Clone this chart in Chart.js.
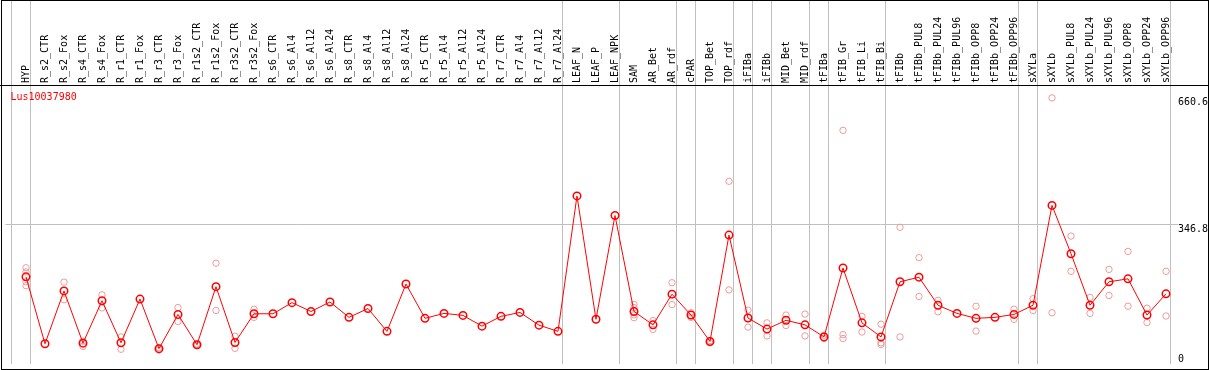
<!DOCTYPE html>
<html>
<head>
<meta charset="utf-8">
<script src="https://cdn.jsdelivr.net/npm/chart.js@4.4.1/dist/chart.umd.min.js"></script>
<style>
html,body{margin:0;padding:0;background:#fff;overflow:hidden;}
#wrap{position:relative;width:1209px;height:370px;}
#c{position:absolute;left:0;top:0;width:1209px;height:370px;}
#frame{position:absolute;left:1px;top:0;width:1208px;height:370px;border:1px solid #000;box-sizing:border-box;pointer-events:none;}
</style>
</head>
<body>
<div id="wrap"><canvas id="c" width="1209" height="370"></canvas><div id="frame"></div></div>
<script>
const geneName = 'Lus10037980';

const categories = [
  'HYP','R_s2_CTR','R_s2_Fox','R_s4_CTR','R_s4_Fox','R_r1_CTR','R_r1_Fox','R_r3_CTR','R_r3_Fox',
  'R_r1s2_CTR','R_r1s2_Fox','R_r3s2_CTR','R_r3s2_Fox','R_s6_CTR','R_s6_Al4','R_s6_Al12','R_s6_Al24',
  'R_s8_CTR','R_s8_Al4','R_s8_Al12','R_s8_Al24','R_r5_CTR','R_r5_Al4','R_r5_Al12','R_r5_Al24',
  'R_r7_CTR','R_r7_Al4','R_r7_Al12','R_r7_Al24','LEAF_N','LEAF_P','LEAF_NPK','SAM','AR_Bet','AR_rdf',
  'cPAR','TOP_Bet','TOP_rdf','iFIBa','iFIBb','MID_Bet','MID_rdf','tFIBa','tFIB_Gr','tFIB_Li','tFIB_Bi',
  'tFIBb','tFIBb_PUL8','tFIBb_PUL24','tFIBb_PUL96','tFIBb_OPP8','tFIBb_OPP24','tFIBb_OPP96',
  'sXYLa','sXYLb','sXYLb_PUL8','sXYLb_PUL24','sXYLb_PUL96','sXYLb_OPP8','sXYLb_OPP24','sXYLb_OPP96'
];

const means = [
  216.3, 50.2, 181.4, 51.8, 157.1, 52.7, 161.2, 38.1, 123.1,
  47.8, 192.0, 53.5, 124.7, 124.7, 152.3, 130.4, 153.9,
  115.8, 137.7, 81.0, 198.5, 113.4, 125.6, 120.7, 94.0,
  118.3, 128.0, 96.4, 81.0, 417.2, 111.0, 368.6, 130.4, 97.2, 173.3,
  121.5, 55.9, 320.0, 114.2, 86.7, 108.5, 97.2, 67.2, 238.2, 102.1, 67.2,
  204.1, 215.5, 145.8, 125.6, 113.4, 115.8, 123.1,
  145.8, 393.7, 273.8, 145.8, 204.1, 211.4, 121.5, 174.2
];

const replicates = [
  [238.9, 228.4, 204.1, 194.4], [], [203.3, 159.6], [56.7, 43.7], [171.7, 139.3], [67.2, 36.5], [], [40.5, 34.8], [140.1, 105.3],
  [49.4, 46.2], [250.3, 132.8], [68.9, 38.9], [136.1, 115.8], [], [], [], [],
  [], [], [], [], [], [], [], [],
  [], [], [], [], [], [], [], [148.0, 140.0, 122.0, 115.0], [107.7, 85.9], [201.7, 147.4],
  [127.2, 115.8], [58.3, 52.7], [453.6, 183.9], [133.7, 91.5], [102.1, 69.7], [121.5, 95.6], [123.9, 69.7], [71.3, 63.2], [580.0, 72.9, 63.2], [118.3, 79.4], [98.8, 52.7, 48.6],
  [339.4, 67.2], [264.1, 167.7], [158.0, 129.6], [], [143.4, 81.8], [], [136.1, 111.0],
  [162.0, 132.8], [660.6, 127.2], [317.5, 230.1], [165.3, 125.6], [234.9, 170.1], [279.5, 143.4], [138.5, 102.9], [230.1, 119.1]
];

// indices of the last category of each group (separator drawn just after it)
const groupEnds = [-1, 0, 28, 31, 34, 35, 37, 38, 39, 41, 42, 45, 52, 53, 60];

const yTickValues = [0, 346.8, 660.6];

const SEP_OFFSET = 0.237;
const FONT = {family: "'DejaVu Sans Mono', monospace", size: 10};
const GRID = '#c0c0c0';
const NONE = 'rgba(0,0,0,0)';

const yLabelBaseline = {
  id: 'yLabelBaseline',
  beforeDraw(chart) {
    const items = chart.scales.y.getLabelItems();
    items.forEach(it => {
      it.options.textBaseline = (it.label === String(yTickValues[0])) ? 'bottom' : 'top';
    });
  }
};

new Chart(document.getElementById('c'), {
  type: 'line',
  data: {
    datasets: [
      {
        label: geneName,
        data: means.map((v, i) => ({x: i, y: v})),
        borderColor: '#ff0000',
        borderWidth: 1,
        pointRadius: 3.75,
        pointBorderWidth: 1.5,
        pointBorderColor: '#ff0000',
        pointBackgroundColor: NONE,
        tension: 0,
        fill: false
      },
      {
        type: 'scatter',
        label: 'replicates',
        data: replicates.flatMap((arr, i) => arr.map(v => ({x: i, y: v}))),
        pointRadius: 3.2,
        pointBorderWidth: 1,
        borderColor: '#ef9a9a',
        backgroundColor: NONE,
        showLine: false
      }
    ]
  },
  options: {
    responsive: false,
    animation: false,
    devicePixelRatio: 1,
    layout: {padding: 0},
    font: FONT,
    scales: {
      x: {
        type: 'linear',
        position: 'top',
        fullSize: true,
        min: -1.368,
        max: 62.263,
        afterBuildTicks: s => {
          const t = categories.map((_, i) => ({value: i}))
            .concat(groupEnds.map(g => ({value: g + SEP_OFFSET})));
          t.sort((a, b) => a.value - b.value);
          s.ticks = t;
        },
        afterFit: s => { s.height = 85; },
        ticks: {
          autoSkip: false,
          minRotation: 90,
          maxRotation: 90,
          padding: -83,
          labelOffset: 12,
          color: '#000',
          font: FONT,
          callback: v => Number.isInteger(v) ? categories[v] : ''
        },
        grid: {
          color: ctx => (ctx.tick && !Number.isInteger(ctx.tick.value)) ? GRID : NONE,
          lineWidth: 1,
          drawTicks: true,
          tickLength: 85
        },
        border: {display: true, color: '#000', width: 1}
      },
      y: {
        type: 'linear',
        position: 'right',
        min: 0,
        max: 692.6,
        afterBuildTicks: s => { s.ticks = yTickValues.map(v => ({value: v})); },
        afterFit: s => { s.width = 37; },
        ticks: {
          padding: 0,
          color: '#000',
          font: FONT,
          callback: v => String(v)
        },
        grid: {
          color: ctx => (ctx.tick && ctx.tick.value === yTickValues[1]) ? GRID : NONE,
          lineWidth: 1,
          drawTicks: true,
          tickLength: 6
        },
        border: {display: false}
      }
    },
    plugins: {
      legend: {
        display: true,
        position: 'chartArea',
        align: 'start',
        labels: {
          boxWidth: 0.001,
          boxHeight: 194,
          padding: 0,
          color: '#ff0000',
          font: FONT,
          generateLabels: () => [{
            text: geneName, fillStyle: NONE, strokeStyle: NONE, lineWidth: 0,
            fontColor: '#ff0000', hidden: false, datasetIndex: 0
          }]
        }
      },
      tooltip: {enabled: false}
    }
  },
  plugins: [yLabelBaseline]
});
</script>
</body>
</html>
